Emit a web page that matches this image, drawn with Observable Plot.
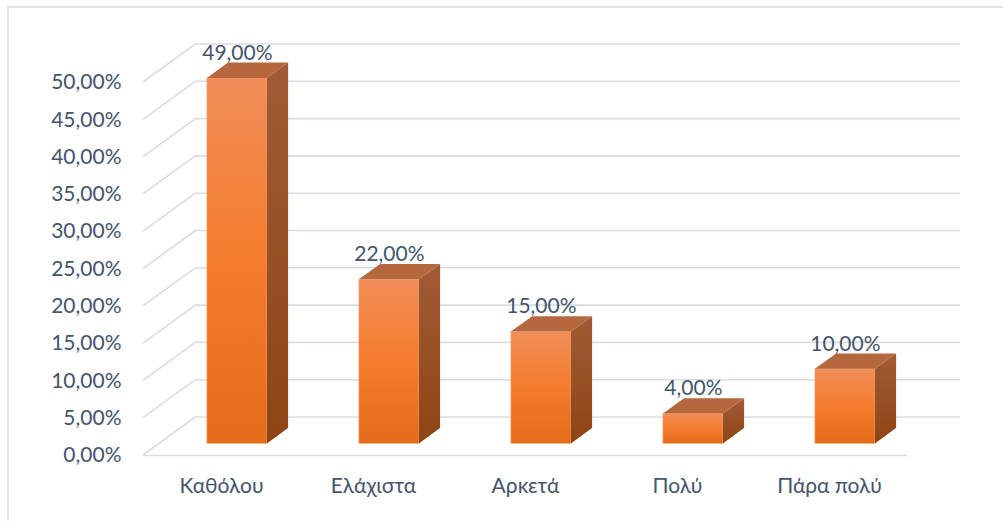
<!DOCTYPE html>
<html>
<head>
<meta charset="utf-8">
<script src="https://cdn.jsdelivr.net/npm/d3@7"></script>
<script src="https://cdn.jsdelivr.net/npm/@observablehq/plot@0.6"></script>
<style>
  html, body { margin: 0; padding: 0; background: #fff; }
  #wrap { position: relative; width: 1003px; height: 521px; overflow: hidden; }
  #border { position: absolute; left: 7px; top: 6px; width: 1100px; height: 600px;
            border-left: 2px solid #dfe3e8; border-top: 2px solid #dfe3e8; box-sizing: border-box; }
  #chart { position: absolute; left: 0; top: 0; }
</style>
</head>
<body>
<div id="wrap"><div id="border"></div><div id="chart"></div></div>
<script>
const categories = ["Καθόλου", "Ελάχιστα", "Αρκετά", "Πολύ", "Πάρα πολύ"];
const values = [49, 22, 15, 4, 10];
const yTicks = [0, 5, 10, 15, 20, 25, 30, 35, 40, 45, 50];

const data = categories.map((c, i) => ({cat: c, value: values[i]}));
const fmt = v => v.toFixed(2).replace(".", ",") + "%";

const DX = 53, DY = 38.5;     // full depth offset of the 3D box
const D0 = 0.3, D1 = 0.7;     // bar depth (front, back) as fraction
const INSET = 46;             // bar inset inside its band
const TXT = "#44546a";
const GRID = "#d9dde3";

// side-wall diagonals + gradient definitions
function wall(index, scales, vals, dims) {
  const {y} = scales;
  const g = d3.create("svg:g");
  const defs = g.append("defs");
  const front = defs.append("linearGradient").attr("id", "gFront")
    .attr("x1", 0).attr("y1", 0).attr("x2", 0).attr("y2", 1);
  front.append("stop").attr("offset", "0%").attr("stop-color", "#f28d58");
  front.append("stop").attr("offset", "50%").attr("stop-color", "#f47c2c");
  front.append("stop").attr("offset", "100%").attr("stop-color", "#e46b1a");
  const side = defs.append("linearGradient").attr("id", "gSide")
    .attr("x1", 0).attr("y1", 0).attr("x2", 0).attr("y2", 1);
  side.append("stop").attr("offset", "0%").attr("stop-color", "#a15b36");
  side.append("stop").attr("offset", "100%").attr("stop-color", "#8e4513");
  for (const t of yTicks) {
    g.append("line")
      .attr("x1", dims.marginLeft).attr("y1", y(t))
      .attr("x2", dims.marginLeft + DX).attr("y2", y(t) - DY)
      .attr("stroke", GRID).attr("stroke-width", 1.6);
  }
  return g.node();
}

// side and top faces of each bar
function faces(index, scales, vals, dims) {
  const {x, y} = scales;
  const g = d3.create("svg:g");
  const bw = x.bandwidth();
  const dd = D1 - D0;
  for (const d of data) {
    const fx0 = x(d.cat) + INSET + D0 * DX;
    const fx1 = x(d.cat) + bw - INSET + D0 * DX;
    const fyT = y(d.value) - D0 * DY;
    const fyB = y(0) - D0 * DY;
    const ox = dd * DX, oy = dd * DY;
    g.append("path")
      .attr("d", `M${fx1},${fyT}L${fx1 + ox},${fyT - oy}L${fx1 + ox},${fyB - oy}L${fx1},${fyB}Z`)
      .attr("fill", "url(#gSide)");
    g.append("path")
      .attr("d", `M${fx0},${fyT}L${fx0 + ox},${fyT - oy}L${fx1 + ox},${fyT - oy}L${fx1},${fyT}Z`)
      .attr("fill", "#b5683d");
  }
  return g.node();
}

const chart = Plot.plot({
  width: 1003,
  height: 521,
  marginLeft: 143,
  marginRight: 96,
  marginTop: 82,
  marginBottom: 66,
  style: {fontFamily: "Lato, 'Open Sans', sans-serif", fontSize: "21px", color: TXT, background: "transparent"},
  x: {domain: categories, padding: 0, tickSize: 0, tickPadding: 23, label: null},
  y: {domain: [0, 50], ticks: 10, tickSize: 0, tickPadding: 22, label: null, tickFormat: fmt},
  marks: [
    Plot.ruleY(yTicks, {stroke: GRID, strokeWidth: 1.6, dx: DX, dy: -DY}),
    Plot.ruleY([0], {stroke: GRID, strokeWidth: 1.6}),
    wall,
    Plot.barY(data, {x: "cat", y: "value", fill: "url(#gFront)", insetLeft: INSET, insetRight: INSET,
                     dx: D0 * DX, dy: -D0 * DY, stroke: "#f6a878", strokeWidth: 0.6}),
    faces,
    Plot.text(data, {x: "cat", y: "value", text: d => fmt(d.value), dx: D0 * DX, dy: -37,
                     fill: TXT, fontSize: 21})
  ]
});
document.getElementById("chart").appendChild(chart);
</script>
</body>
</html>
